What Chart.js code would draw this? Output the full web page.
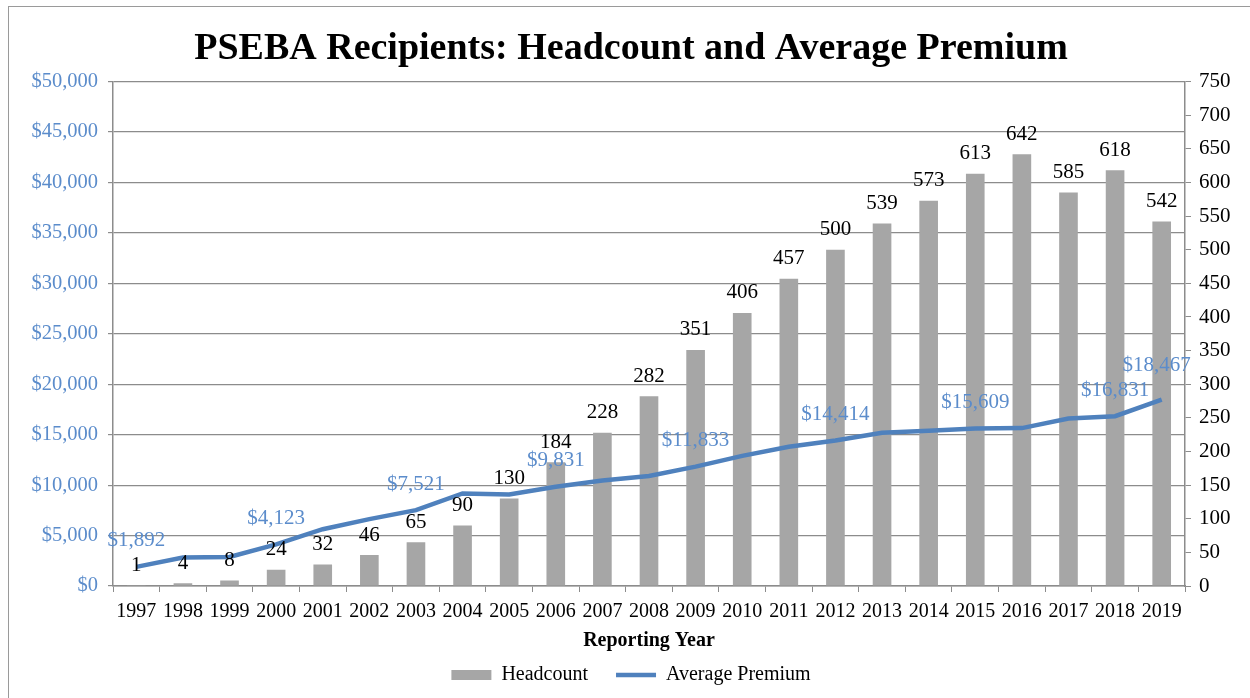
<!DOCTYPE html>
<html>
<head>
<meta charset="utf-8">
<title>PSEBA Recipients</title>
<script src="https://cdn.jsdelivr.net/npm/chart.js@4.4.1/dist/chart.umd.min.js"></script>
<style>
  html, body { margin: 0; padding: 0; background: #fff; }
  #wrap { position: relative; width: 1250px; height: 698px; overflow: hidden; }
  #frame { position: absolute; left: 8px; top: 6px; width: 1300px; height: 800px;
           border: 1.5px solid #9a9a9a; box-sizing: border-box; pointer-events: none; }
  canvas { position: absolute; left: 0; top: 0; }
</style>
</head>
<body>
<div id="wrap">
  <canvas id="graph-area" width="1250" height="698"></canvas>
  <div id="frame"></div>
</div>
<script>
// reporting years
var years = ["1997", "1998", "1999", "2000", "2001", "2002", "2003", "2004", "2005", "2006", "2007", "2008",
             "2009", "2010", "2011", "2012", "2013", "2014", "2015", "2016", "2017", "2018", "2019"];
// headcount (right axis)
var headcount = [1, 4, 8, 24, 32, 46, 65, 90, 130, 184, 228, 282, 351, 406, 457, 500, 539, 573, 613, 642, 585, 618, 542];
// average premium in dollars (left axis)
var avgPremium = [1892, 2820, 2880, 4123, 5630, 6630, 7521, 9180, 9080, 9831, 10450, 10900, 11833,
                  12900, 13800, 14414, 15200, 15400, 15609, 15650, 16600, 16831, 18467];
// years whose premium gets a label
var premiumLabelYears = ["1997", "2000", "2003", "2006", "2009", "2012", "2015", "2018", "2019"];
// axis ticks
var premiumTicks = [0, 5000, 10000, 15000, 20000, 25000, 30000, 35000, 40000, 45000, 50000];
var headcountTicks = [0, 50, 100, 150, 200, 250, 300, 350, 400, 450, 500, 550, 600, 650, 700, 750];

var FONT = "'Liberation Serif', 'Times New Roman', serif";
var BLUE = "#4F81BD";
var LABEL_BLUE = "#5B8CCB";
var GREY_BAR = "#A6A6A6";
var AXIS = "#8c8c8c";

function money(v) {
  return "$" + v.toLocaleString("en-US");
}

// values above the bars and on selected line points
var valueLabels = {
  id: "valueLabels",
  afterDatasetsDraw: function (chart) {
    var ctx = chart.ctx;
    ctx.save();
    ctx.font = "21px " + FONT;
    ctx.textAlign = "center";
    ctx.textBaseline = "middle";

    var bars = chart.getDatasetMeta(0);
    ctx.fillStyle = "#000";
    bars.data.forEach(function (bar, i) {
      ctx.fillText(String(headcount[i]), bar.x, bar.y - 20);
    });

    var line = chart.getDatasetMeta(1);
    ctx.fillStyle = LABEL_BLUE;
    line.data.forEach(function (pt, i) {
      if (premiumLabelYears.indexOf(years[i]) < 0) return;
      var last = (i === line.data.length - 1);
      ctx.fillText(money(avgPremium[i]), pt.x + (last ? -5 : 0), pt.y - (last ? 34 : 26));
    });
    ctx.restore();
  }
};

var mydata = {
  labels: years,
  datasets: [
    {
      type: "bar",
      label: "Headcount",
      data: headcount,
      yAxisID: "yCount",
      backgroundColor: GREY_BAR,
      borderWidth: 0,
      barPercentage: 0.8,
      categoryPercentage: 0.5,
      pointStyle: "rect",
      order: 1
    },
    {
      type: "line",
      label: "Average Premium",
      data: avgPremium,
      yAxisID: "yPremium",
      borderColor: BLUE,
      backgroundColor: BLUE,
      borderWidth: 4.5,
      pointRadius: 0,
      pointStyle: "line",
      tension: 0,
      order: 0
    }
  ]
};

var options = {
  responsive: false,
  animation: false,
  layout: { padding: { left: 12, right: 0, top: 0, bottom: 3 } },
  plugins: {
    tooltip: { enabled: false },
    title: {
      display: true,
      text: "PSEBA Recipients: Headcount and Average Premium",
      color: "#000",
      font: { family: FONT, size: 38, weight: "bold" },
      padding: { top: 26, bottom: 10 }
    },
    legend: {
      position: "bottom",
      labels: {
        color: "#000",
        font: { family: FONT, size: 20 },
        usePointStyle: true,
        pointStyleWidth: 40,
        boxHeight: 10,
        padding: 8,
        sort: function (a, b) { return a.datasetIndex - b.datasetIndex; },
        generateLabels: function (chart) {
          var items = Chart.defaults.plugins.legend.labels.generateLabels(chart);
          // a little extra room after the headcount entry
          items.forEach(function (item) {
            if (item.datasetIndex === 0) item.text = item.text + "\u2003";
          });
          return items;
        }
      }
    }
  },
  scales: {
    x: {
      grid: { display: true, drawOnChartArea: false, offset: true, color: AXIS, tickLength: 6 },
      border: { display: true, color: AXIS, width: 1.5 },
      ticks: { color: "#000", font: { family: FONT, size: 20 }, padding: 8, maxRotation: 0, autoSkip: false },
      title: {
        display: true,
        text: "Reporting Year",
        color: "#000",
        font: { family: FONT, size: 20, weight: "bold" },
        padding: { top: -3, bottom: 4 }
      }
    },
    yPremium: {
      position: "left",
      min: 0,
      max: 50000,
      afterBuildTicks: function (axis) {
        axis.ticks = premiumTicks.map(function (v) { return { value: v }; });
      },
      afterFit: function (axis) { axis.width = 101; },
      grid: { color: "#8c8c8c", lineWidth: 1.2, tickLength: 5 },
      border: { display: true, color: AXIS, width: 1.5 },
      ticks: {
        color: LABEL_BLUE,
        font: { family: FONT, size: 20.5 },
        padding: 10,
        callback: function (v) { return money(v); }
      }
    },
    yCount: {
      position: "right",
      min: 0,
      max: 750,
      afterBuildTicks: function (axis) {
        axis.ticks = headcountTicks.map(function (v) { return { value: v }; });
      },
      afterFit: function (axis) { axis.width = 65; },
      grid: { drawOnChartArea: false, color: AXIS, tickLength: 6 },
      border: { display: true, color: AXIS, width: 1.5 },
      ticks: { color: "#000", font: { family: FONT, size: 21 }, padding: 8 }
    }
  }
};

var canvas = document.getElementById("graph-area");
var chart = new Chart(canvas, {
  data: mydata,
  options: options,
  plugins: [valueLabels]
});
</script>
</body>
</html>
